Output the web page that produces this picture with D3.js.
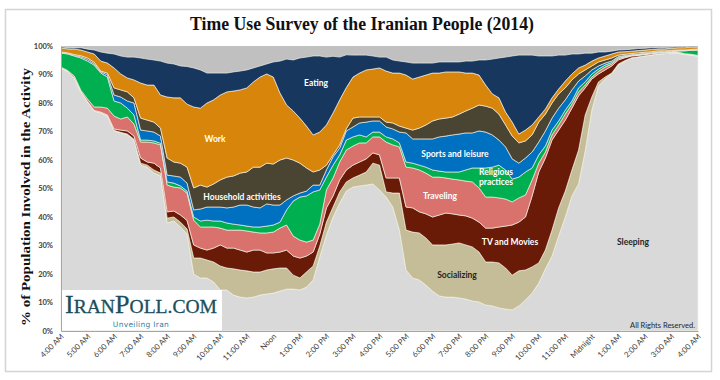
<!DOCTYPE html>
<html><head><meta charset="utf-8">
<script src="https://cdn.jsdelivr.net/npm/d3@7"></script>
<style>body{margin:0;background:#fff}svg{display:block}</style></head>
<body><svg id="c" width="720" height="380"></svg>
<script>
// quarter-hour samples from 4:00 AM to 4:00 AM next day (hours since 4 AM)
const hours = d3.range(0, 24.001, 0.25);
const tickLabels = ["4:00 AM","5:00 AM","6:00 AM","7:00 AM","8:00 AM","9:00 AM","10:00 AM","11:00 AM","Noon","1:00 PM","2:00 PM","3:00 PM","4:00 PM","5:00 PM","6:00 PM","7:00 PM","8:00 PM","9:00 PM","10:00 PM","11:00 PM","Midnight","1:00 AM","2:00 AM","3:00 AM","4:00 AM"];
const yTicks = [0,10,20,30,40,50,60,70,80,90,100];
const activities = ["Sleeping","Socializing","TV and Movies","Traveling","Religious practices","Sports and leisure","Household activities","Work","Eating"];

const sleeping = [92.3,91.0,88.8,83.9,80.4,77.2,76.5,75.4,70.2,69.5,68.8,67.0,58.2,57.5,55.4,54.4,37.9,38.6,36.5,34.0,20.0,18.6,18.6,17.2,14.4,14.4,12.6,11.9,11.6,11.9,12.6,13.0,13.3,14.0,14.7,14.7,14.4,15.4,17.9,26.0,33.7,40.0,44.9,49.1,50.5,50.9,51.2,51.6,49.5,47.0,43.5,35.4,21.4,18.6,17.9,16.1,14.0,12.3,11.9,11.9,11.6,11.2,10.5,10.2,9.1,8.8,8.1,7.7,7.4,8.8,10.9,13.3,16.8,21.8,26.3,33.3,40.0,47.4,51.6,63.2,77.5,86.0,88.4,90.2,93.3,94.7,95.8,96.1,96.5,96.8,97.2,97.3,97.5,97.5,97.0,96.8,96.4];
const socializing = [0.1,0.1,0.1,0.1,0.1,0.1,0.2,0.2,0.2,0.2,0.3,0.3,0.7,0.7,1.1,1.0,1.7,1.4,1.7,1.8,5.6,7.0,6.3,7.0,8.4,7.7,9.2,9.5,9.5,8.8,8.1,8.4,8.5,8.1,7.4,4.9,4.2,5.3,4.9,3.8,4.5,3.5,3.9,3.2,3.2,3.8,4.6,7.3,8.7,1.8,4.9,13.0,14.0,16.1,16.5,16.5,16.2,17.9,18.3,18.6,19.3,19.0,19.0,17.5,15.1,15.4,15.8,14.4,12.2,12.3,10.5,9.2,7.1,6.6,9.1,9.9,9.1,9.1,11.9,12.6,4.6,1.4,0.7,0.3,0.4,0.2,0.1,0.1,0.1,0.1,0.1,0.1,0.1,0.1,0.1,0.1,0.1];
const tvMovies = [0.0,0.0,0.0,0.0,0.0,0.1,0.1,0.2,0.5,0.8,1.1,1.1,1.8,1.1,2.4,1.8,2.2,2.1,2.5,3.0,4.6,3.5,3.5,4.9,7.4,7.0,7.3,7.0,6.6,7.7,7.7,6.0,5.6,5.6,6.3,6.7,7.0,5.6,4.9,4.2,5.0,3.9,4.2,4.2,4.5,4.6,4.6,3.6,3.6,4.9,5.3,5.3,8.1,8.5,7.4,8.5,9.8,10.5,11.2,10.6,9.8,10.2,10.1,10.5,11.9,11.9,12.6,14.7,17.6,17.1,18.6,24.9,31.9,32.3,31.6,27.3,24.9,21.7,19.0,9.5,6.3,2.8,2.5,2.5,1.4,1.0,0.6,0.5,0.4,0.4,0.3,0.2,0.2,0.2,0.1,0.1,0.1];
const traveling = [0.2,0.3,0.6,0.5,0.9,1.2,1.8,2.4,4.5,3.9,4.9,4.2,5.6,7.0,7.1,8.1,9.4,8.4,9.5,9.6,8.7,7.4,8.1,7.4,5.9,6.3,6.3,7.0,7.4,6.3,6.0,7.0,7.3,8.4,8.8,7.0,6.3,4.9,4.2,3.5,6.3,6.3,6.3,7.0,6.7,6.7,5.6,5.6,6.3,12.6,11.6,10.9,14.0,14.0,14.7,14.3,14.0,13.3,12.3,12.2,12.3,12.2,12.7,12.0,10.9,10.9,10.2,9.5,8.1,8.5,7.7,5.6,3.1,2.1,1.8,1.8,2.1,1.4,1.4,1.0,0.7,0.9,1.0,0.7,0.5,0.3,0.2,0.2,0.2,0.1,0.1,0.1,0.1,0.1,0.1,0.1,0.1];
const religious = [4.9,5.8,7.0,11.3,13.3,14.7,11.9,10.9,5.3,5.6,3.1,3.2,0.7,0.7,0.7,0.6,1.1,1.4,0.7,0.7,1.1,2.1,2.4,2.1,2.5,2.5,2.1,1.8,1.7,1.8,2.1,2.4,2.5,2.1,5.3,12.3,15.1,16.2,16.9,12.0,4.5,4.5,2.5,3.5,3.2,2.8,2.1,1.7,1.7,1.8,2.1,1.4,1.8,1.7,1.7,2.1,2.5,2.1,2.1,2.5,2.8,3.9,4.9,7.0,10.2,10.5,11.5,10.2,8.0,7.3,8.1,4.2,2.9,2.1,1.7,1.4,1.4,1.1,1.4,1.1,1.1,0.8,0.7,0.5,0.4,0.2,0.1,0.1,0.1,0.1,0.1,0.1,0.2,0.4,1.0,1.4,1.9];
const sports = [0.2,0.2,0.2,0.4,0.6,0.5,0.4,0.8,2.1,2.1,2.5,4.2,3.5,3.2,3.1,2.5,2.4,2.5,3.1,2.8,2.5,4.2,4.6,4.9,4.9,5.3,6.0,7.0,7.4,7.0,6.7,7.8,7.0,6.0,3.5,1.8,1.4,1.7,2.4,1.7,2.5,2.9,2.4,3.2,3.5,4.2,5.2,3.9,3.9,3.5,3.5,3.8,10.2,8.5,9.2,9.9,10.9,12.0,12.6,13.0,13.3,13.0,12.3,13.0,12.6,11.3,8.8,8.1,7.1,4.9,4.9,5.6,4.5,5.3,4.2,4.5,3.6,3.9,2.4,2.1,1.4,1.1,0.7,0.5,0.3,0.3,0.2,0.2,0.2,0.2,0.2,0.2,0.1,0.1,0.1,0.1,0.1];
const household = [0.2,0.2,0.3,0.4,0.5,0.5,0.3,0.6,2.5,2.5,3.2,1.8,4.2,3.8,3.5,2.8,6.0,4.9,4.9,5.6,7.7,8.4,7.0,8.1,9.5,10.8,10.9,11.2,11.6,14.0,14.3,14.3,14.4,15.8,14.7,12.6,10.5,8.1,4.6,5.3,1.7,0.7,1.1,0.8,3.1,2.1,1.8,1.4,1.4,1.7,2.1,2.1,1.7,3.1,3.8,4.9,6.3,6.3,6.3,6.3,7.0,7.7,8.7,9.1,9.1,9.4,9.1,7.7,8.0,7.1,6.0,6.0,7.0,5.9,5.3,5.0,4.2,3.5,2.5,2.1,1.4,1.4,1.1,1.1,0.5,0.4,0.4,0.4,0.3,0.3,0.3,0.3,0.2,0.2,0.2,0.2,0.2];
const work = [1.4,1.4,1.9,2.0,2.1,2.9,3.5,3.5,7.0,5.6,4.9,6.3,12.3,12.3,13.0,11.6,21.4,22.5,22.9,22.1,28.4,27.0,29.5,29.5,29.8,29.9,29.8,29.2,29.5,29.9,31.6,31.3,30.5,23.5,18.6,17.2,15.8,14.7,13.0,13.3,14.1,14.7,15.8,14.4,14.4,15.4,16.5,16.8,17.2,17.9,17.5,18.6,18.6,17.9,17.9,17.5,16.8,16.1,16.2,15.8,14.8,13.3,12.3,10.5,7.4,5.0,5.7,4.5,4.9,3.1,3.8,3.5,1.8,1.8,1.8,1.7,2.4,2.1,2.1,1.7,1.7,1.4,1.4,1.4,1.1,0.9,0.8,0.8,0.8,0.8,0.7,0.7,0.8,0.8,0.8,0.8,0.7];
const eating = [0.4,0.4,0.4,0.8,1.0,1.4,3.2,3.5,4.9,6.3,7.3,8.0,8.8,9.1,8.8,11.9,11.9,11.9,11.2,13.2,13.7,13.4,10.5,9.4,7.7,6.6,6.7,6.6,6.3,4.9,3.9,3.5,5.3,11.2,16.1,17.9,21.1,24.2,27.7,26.7,23.8,19.9,15.0,11.5,7.7,6.3,5.2,4.6,3.8,4.9,4.6,4.2,4.6,5.6,4.9,4.2,3.5,3.9,3.5,3.5,3.5,4.2,4.2,5.3,8.8,12.2,14.0,19.3,23.2,27.7,26.3,24.5,21.4,18.6,14.7,11.9,9.1,7.0,4.9,4.2,2.8,2.1,1.4,1.0,0.7,0.7,0.7,0.7,0.6,0.6,0.5,0.5,0.4,0.4,0.4,0.3,0.3];

const series = [sleeping, socializing, tvMovies, traveling, religious, sports, household, work, eating];
const colors = ["#d9d9d9","#c4bd97","#6a1b08","#d9716d","#00b050","#0070c0","#4a4432","#d8860b","#17375e"];

const rows = hours.map((h, i) => {
  const r = {h};
  activities.forEach((a, k) => r[a] = series[k][i]);
  return r;
});

const svg = d3.select("#c");
const L = 61, R = 698, T = 46, B = 331;
const x = d3.scaleLinear().domain([0, 24]).range([L, R]);
const y = d3.scaleLinear().domain([0, 100]).range([B, T]);

// frame
svg.append("rect").attr("x", 5.5).attr("y", 9.5).attr("width", 706).attr("height", 362)
  .attr("fill", "#fff").attr("stroke", "#d4d4d4").attr("stroke-width", 1.5);

// title
svg.append("text").attr("x", 362).attr("y", 30).attr("text-anchor", "middle")
  .attr("font-family", "'Liberation Serif','Times New Roman',serif").attr("font-weight", "bold")
  .attr("font-size", 18).attr("fill", "#111")
  .attr("textLength", 344).attr("lengthAdjust", "spacingAndGlyphs")
  .text("Time Use Survey of the Iranian People (2014)");

// remainder background (other activities)
svg.append("rect").attr("x", L).attr("y", T).attr("width", R - L).attr("height", B - T).attr("fill", "#c0c0c0");

const stacked = d3.stack().keys(activities)(rows);
const area = d3.area().x(d => x(d.data.h)).y0(d => y(d[0])).y1(d => y(d[1]));

svg.append("g").selectAll("path").data(stacked).join("path")
  .attr("d", area).attr("fill", (d, i) => colors[i])
  .attr("stroke", "#f4f1e6").attr("stroke-width", 0.8).attr("stroke-opacity", 0.85)
  .attr("stroke-linejoin", "round");

// axes
const yAxis = d3.axisLeft(y).tickValues(yTicks).tickSize(0).tickPadding(8).tickFormat(d => d + "%");
const gy = svg.append("g").attr("transform", `translate(${L},0)`).call(yAxis);
gy.select(".domain").attr("stroke", "#a6a6a6");
gy.selectAll("text").attr("font-family", "Lato, 'Open Sans', sans-serif").attr("font-weight", "bold")
  .attr("font-size", 7.5).attr("fill", "#404040");

const xAxis = d3.axisBottom(x).tickValues(d3.range(0, 25)).tickSize(0).tickFormat((d, i) => tickLabels[i]);
const gx = svg.append("g").attr("transform", `translate(0,${B})`).call(xAxis);
gx.select(".domain").attr("stroke", "#a6a6a6");
gx.selectAll("text").attr("font-family", "Lato, 'Open Sans', sans-serif")
  .attr("font-size", 7.8).attr("fill", "#404040")
  .attr("text-anchor", "end").attr("dy", null).attr("y", 0)
  .attr("transform", "translate(3,6) rotate(-45)");

// y title
svg.append("text").attr("transform", "translate(30,197) rotate(-90)").attr("text-anchor", "middle")
  .attr("font-family", "'Liberation Serif','Times New Roman',serif").attr("font-weight", "bold")
  .attr("font-size", 13).attr("fill", "#111")
  .attr("textLength", 258).attr("lengthAdjust", "spacingAndGlyphs")
  .text("% of Population Involved in the Activity");

// in-chart labels
const labels = [
  {t: "Eating", x: 316, y: 86, c: "#fff"},
  {t: "Work", x: 215, y: 142, c: "#fff"},
  {t: "Household activities", x: 242, y: 200, c: "#fff"},
  {t: "Sports and leisure", x: 455, y: 157, c: "#fff"},
  {t: "Religious", x: 496, y: 175, c: "#fff"},
  {t: "practices", x: 496, y: 185, c: "#fff"},
  {t: "Traveling", x: 440, y: 199, c: "#fff"},
  {t: "TV and Movies", x: 510, y: 245, c: "#fff"},
  {t: "Socializing", x: 457, y: 278, c: "#262626"},
  {t: "Sleeping", x: 633, y: 245, c: "#262626"}
];
svg.append("g").selectAll("text").data(labels).join("text")
  .attr("x", d => d.x).attr("y", d => d.y).attr("text-anchor", "middle")
  .attr("font-family", "Lato, 'Open Sans', sans-serif").attr("font-weight", "bold")
  .attr("font-size", 8.5).attr("fill", d => d.c).text(d => d.t);

// logo box
svg.append("rect").attr("x", 62).attr("y", 290).attr("width", 160).attr("height", 40.5).attr("fill", "#fff");
const logo = svg.append("text").attr("x", 65).attr("y", 313)
  .attr("font-family", "'Liberation Serif','Times New Roman',serif").attr("fill", "#1b4e5c")
  .attr("stroke", "#1b4e5c").attr("stroke-width", 0.3)
  .attr("textLength", 152).attr("lengthAdjust", "spacingAndGlyphs");
logo.append("tspan").attr("font-size", 26).text("I");
logo.append("tspan").attr("font-size", 19.5).text("RAN");
logo.append("tspan").attr("font-size", 26).text("P");
logo.append("tspan").attr("font-size", 19.5).text("OLL.COM");
svg.append("text").attr("x", 141).attr("y", 327).attr("text-anchor", "middle")
  .attr("font-family", "'DejaVu Sans', Verdana, sans-serif").attr("font-size", 7.5)
  .attr("fill", "#2f7fa6").attr("letter-spacing", 0.3).text("Unveiling Iran");

svg.append("text").attr("x", 695).attr("y", 328).attr("text-anchor", "end")
  .attr("font-family", "Lato, 'Open Sans', sans-serif").attr("font-size", 7.5)
  .attr("fill", "#262626").text("All Rights Reserved.");
</script></body></html>
